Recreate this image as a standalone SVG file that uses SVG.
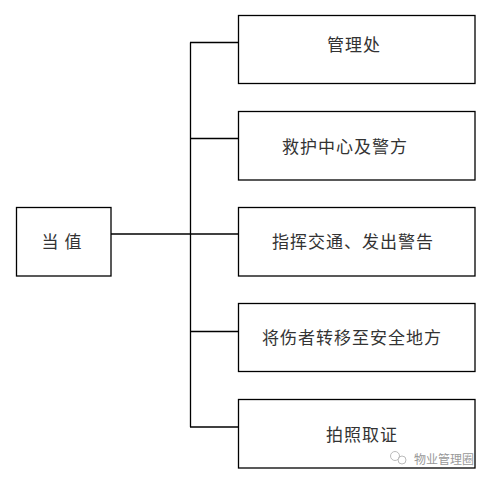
<svg xmlns="http://www.w3.org/2000/svg" width="490" height="481" viewBox="0 0 490 481">
<style>
.box{fill:#fff;stroke:#000;stroke-width:1.3}
.ln{fill:none;stroke:#000;stroke-width:1.3}
.t{font-family:"Noto Sans CJK SC","Noto Sans",sans-serif;font-size:17px;letter-spacing:1px;fill:#333;text-anchor:middle}
.wm{font-family:"Noto Sans CJK SC",sans-serif;font-size:12px;fill:#999}
</style>
<rect width="490" height="481" fill="#fff"/>
<g id="connectors">
<line class="ln" x1="111" y1="234" x2="238" y2="234"/>
<line class="ln" x1="190.5" y1="42.5" x2="190.5" y2="427"/>
<line class="ln" x1="190" y1="42.5" x2="238" y2="42.5"/>
<line class="ln" x1="190" y1="138.5" x2="238" y2="138.5"/>
<line class="ln" x1="190" y1="331.5" x2="238" y2="331.5"/>
<line class="ln" x1="190" y1="427" x2="238" y2="427"/>
</g>
<g id="n0"><rect class="box" x="16.5" y="207.5" width="94.5" height="68.5"/><text class="t" x="62" y="248">当  值</text></g>
<g id="n1"><rect class="box" x="238.5" y="15.5" width="236.5" height="68"/><text class="t" x="354" y="51">管理处</text></g>
<g id="n2"><rect class="box" x="238.5" y="111.5" width="236.5" height="68.5"/><text class="t" x="345" y="153">救护中心及警方</text></g>
<g id="n3"><rect class="box" x="238.5" y="207.5" width="236.5" height="68.5"/><text class="t" x="353" y="248">指挥交通、发出警告</text></g>
<g id="n4"><rect class="box" x="238.5" y="303.5" width="236.5" height="68"/><text class="t" x="352" y="344">将伤者转移至安全地方</text></g>
<g id="n5"><rect class="box" x="238.5" y="399.5" width="236.5" height="68.5"/><text class="t" x="362" y="441">拍照取证</text></g>
<g id="watermark">
<circle cx="395" cy="456" r="4.5" fill="none" stroke="#bbb" stroke-width="1"/>
<circle cx="402" cy="460" r="4" fill="none" stroke="#bbb" stroke-width="1"/>
<text class="wm" x="414" y="464">物业管理圈</text>
</g>
</svg>
